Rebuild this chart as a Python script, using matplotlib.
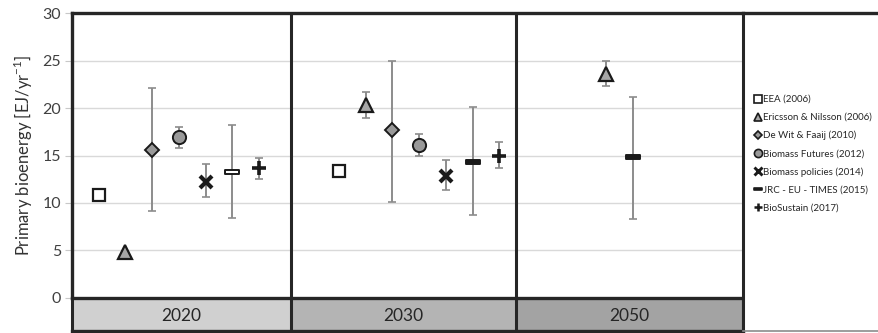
import matplotlib.pyplot as plt
from matplotlib.path import Path
from matplotlib.lines import Line2D

plt.rcParams['font.family'] = ['Lato', 'DejaVu Sans']
plt.rcParams['mathtext.fontset'] = 'custom'
plt.rcParams['mathtext.rm'] = 'Lato'

# scenario years and studies
years = ['2020', '2030', '2050']
studies = ['EEA (2006)', 'Ericsson & Nilsson (2006)', 'De Wit & Faaij (2010)',
           'Biomass Futures (2012)', 'Biomass policies (2014)',
           'JRC - EU - TIMES (2015)', 'BioSustain (2017)']

# central values per year (None = not available)
eea = [10.8, 13.4, None]
ericsson = [4.8, 20.3, 23.6]
dewit = [15.6, 17.7, None]
futures = [17.0, 16.1, None]
policies = [12.2, 12.8, None]
jrc = [13.3, 14.3, 14.8]
biosustain = [13.7, 15.0, None]

# min / max range per year
ericsson_lo = [None, 19.0, 22.3]
ericsson_hi = [None, 21.7, 25.0]
dewit_lo = [9.1, 10.1, None]
dewit_hi = [22.1, 25.0, None]
futures_lo = [15.8, 14.9, None]
futures_hi = [18.0, 17.3, None]
policies_lo = [10.6, 11.4, None]
policies_hi = [14.1, 14.5, None]
jrc_lo = [8.4, 8.7, 8.3]
jrc_hi = [18.2, 20.1, 21.2]
biosustain_lo = [12.5, 13.7, None]
biosustain_hi = [14.7, 16.4, None]

values = [eea, ericsson, dewit, futures, policies, jrc, biosustain]
lows = [[None] * 3, ericsson_lo, dewit_lo, futures_lo, policies_lo, jrc_lo, biosustain_lo]
highs = [[None] * 3, ericsson_hi, dewit_hi, futures_hi, policies_hi, jrc_hi, biosustain_hi]

# layout of the year panels in slot units
year_start = [1, 10, 20]
panel_edges = [0, 8.2, 16.63, 25.13]
strip_colors = ['#d0d0d0', '#b4b4b4', '#a3a3a3']

bar = Path([(-1, -0.28), (1, -0.28), (1, 0.28), (-1, 0.28), (-1, -0.28)],
           [Path.MOVETO, Path.LINETO, Path.LINETO, Path.LINETO, Path.CLOSEPOLY])

styles = [
    dict(marker='s', ms=8.5, mfc='white', mec='#1a1a1a', mew=1.6),
    dict(marker='^', ms=9.5, mfc='#a6a6a6', mec='#1a1a1a', mew=1.6),
    dict(marker='D', ms=7, mfc='#999999', mec='#1a1a1a', mew=1.4),
    dict(marker='o', ms=9.5, mfc='#999999', mec='#1a1a1a', mew=1.4),
    dict(marker='x', ms=9, mfc='#1a1a1a', mec='#1a1a1a', mew=3),
    dict(marker=bar, ms=10, mfc='#1a1a1a', mec='#1a1a1a', mew=1.4),
    dict(marker='+', ms=10, mfc='#1a1a1a', mec='#1a1a1a', mew=2.6),
]

W, H = 879, 333
fig = plt.figure(figsize=(W / 100, H / 100), dpi=100)
x0, x1 = 72, 743
ax = fig.add_axes([x0 / W, (H - 297.7) / H, (x1 - x0) / W, (297.7 - 13.3) / H])
strip = fig.add_axes([x0 / W, (H - 331) / H, (x1 - x0) / W, (331 - 297.7) / H])
leg_ax = fig.add_axes([x1 / W, (H - 331) / H, (W - x1) / W, (331 - 13.3) / H])

ax.set_xlim(panel_edges[0], panel_edges[-1])
ax.set_ylim(0, 30)
ax.set_yticks(range(0, 31, 5))
ax.yaxis.grid(True, color='#d9d9d9', lw=1)
ax.set_axisbelow(True)
ax.set_xticks([])
ax.tick_params(axis='y', length=5, color='#c8c8c8', labelsize=11.5,
               labelcolor='#404040', pad=3)
for s in ax.spines.values():
    s.set_visible(False)
ax.set_ylabel(r'Primary bioenergy [EJ/yr$^{\mathregular{-1}}$]', fontsize=12,
              color='#333333', labelpad=5)

for k in range(len(years)):
    rank = 0
    for i, series in enumerate(values):
        v = series[k]
        if v is None:
            continue
        x = year_start[k] + rank
        rank += 1
        lo, hi = lows[i][k], highs[i][k]
        if lo is not None:
            ax.errorbar(x, v, yerr=[[v - lo], [hi - v]], fmt='none',
                        ecolor='#8c8c8c', elinewidth=1.4, capsize=3, capthick=1.2,
                        zorder=2)
        st = dict(styles[i])
        if i == 5 and k == 0:
            st['mfc'] = 'white'
        ax.plot(x, v, ls='none', zorder=3, **st)

# panel frame lines
for e in panel_edges[1:-1]:
    ax.axvline(e, color='#262626', lw=2.2, zorder=4)
ax.axhline(30, color='#262626', lw=2.4, clip_on=False, zorder=4)
ax.axvline(0, color='#262626', lw=2.4, clip_on=False, zorder=4)

# year strip under the panels
strip.set_xlim(panel_edges[0], panel_edges[-1])
strip.set_ylim(0, 1)
strip.axis('off')
for k, yr in enumerate(years):
    strip.axvspan(panel_edges[k], panel_edges[k + 1], color=strip_colors[k])
    strip.text((panel_edges[k] + panel_edges[k + 1]) / 2, 0.45, yr, ha='center',
               va='center', fontsize=12.5, color='#262626')
for e in panel_edges:
    strip.axvline(e, color='#262626', lw=2.2, clip_on=False)
strip.axhline(1, color='#262626', lw=2.4, clip_on=False)
strip.axhline(0, color='#262626', lw=2.4, clip_on=False)

# legend box
leg_ax.set_xlim(0, 1)
leg_ax.set_ylim(0, 1)
leg_ax.set_xticks([])
leg_ax.set_yticks([])
for s in leg_ax.spines.values():
    s.set_visible(False)
leg_ax.axvline(0, color='#262626', lw=2.2, clip_on=False)
leg_ax.axhline(1, color='#262626', lw=2.4, clip_on=False)
leg_ax.axhline(0, color='#8c8c8c', lw=1.2, clip_on=False)

handles = []
for i, name in enumerate(studies):
    st = dict(styles[i])
    st['ms'] = st['ms'] * 0.62
    st['mew'] = max(1.2, st['mew'] * 0.7)
    handles.append(Line2D([], [], ls='none', **st))
leg = leg_ax.legend(handles, studies, loc='upper left', bbox_to_anchor=(0.06, 0.755),
                    frameon=False, fontsize=7.0, handlelength=0.6,
                    handletextpad=0.2, labelspacing=0.92, borderaxespad=0)
for t in leg.get_texts():
    t.set_color('#262626')

fig.savefig('out.png', dpi=100)
